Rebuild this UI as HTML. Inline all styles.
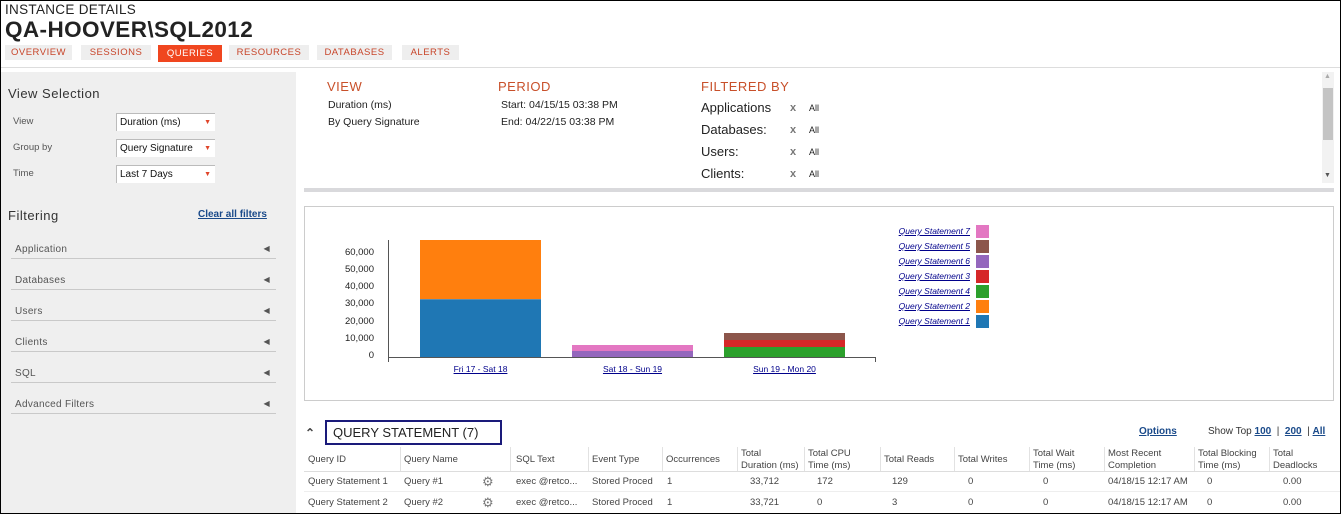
<!DOCTYPE html>
<html><head><meta charset="utf-8"><style>
*{margin:0;padding:0;box-sizing:border-box}
body{width:1341px;height:514px;position:relative;overflow:hidden;background:#fff;font-family:"Liberation Sans",sans-serif;color:#333}
#frame{position:absolute;left:0;top:0;width:1341px;height:514px;border:1px solid #000;pointer-events:none;z-index:9}
.a{position:absolute;white-space:nowrap}
.tab{position:absolute;top:45px;height:15px;background:#eeeeee;color:#c8452a;font-size:9.5px;letter-spacing:.5px;text-align:center;line-height:15px}
.or{color:#c8502a;font-size:13px;letter-spacing:.5px}
.s{font-size:10.5px;color:#222}
.sel{position:absolute;left:116px;width:99px;height:18px;border-top:1px solid #bbb;border-left:1px solid #bbb;background:#fff;font-size:10px;line-height:17px;padding-left:3px;color:#111}
.sel:after{content:"▼";position:absolute;right:4px;top:0;color:#e0452a;font-size:7px}
.fl{position:absolute;left:11px;width:265px;border-bottom:1px solid #c9c9c9;font-size:10px;color:#555;padding-left:4px;padding-top:3px;height:18px;letter-spacing:.3px}
.fl:after{content:"◀";position:absolute;right:6px;top:3px;font-size:8px;color:#555}
.yl{position:absolute;right:967px;font-size:9.5px;color:#222}
.lg{position:absolute;right:371px;font-size:8.5px;color:#00008b;text-decoration:underline;font-style:italic}
.sw{position:absolute;left:976px;width:13px;height:13px}
.th{position:absolute;top:448px;font-size:9.5px;color:#444;line-height:12px}
.td{position:absolute;font-size:9.5px;color:#444}
.vd{position:absolute;top:447px;width:1px;height:24px;background:#e2e2e2}
</style></head><body>
<div id="frame"></div>
<div class="a" style="left:5px;top:2px;font-size:13.5px;color:#222;letter-spacing:.3px">INSTANCE DETAILS</div>
<div class="a" style="left:5px;top:17px;font-size:22.5px;font-weight:bold;color:#222;letter-spacing:.4px">QA-HOOVER\SQL2012</div>
<div class="tab" style="left:5px;width:67px">OVERVIEW</div>
<div class="tab" style="left:81px;width:70px">SESSIONS</div>
<div class="tab" style="left:158px;width:64px;background:#f0461f;color:#fff;height:17px;top:45px;line-height:17px">QUERIES</div>
<div class="tab" style="left:229px;width:80px">RESOURCES</div>
<div class="tab" style="left:317px;width:75px">DATABASES</div>
<div class="tab" style="left:402px;width:57px">ALERTS</div>
<div class="a" style="left:0;top:67px;width:1341px;height:1px;background:#ddd"></div>
<div class="a" style="left:1px;top:72px;width:295px;height:441px;background:#efefef"></div>
<div class="a" style="left:8px;top:86px;font-size:13px;color:#333;letter-spacing:.5px">View Selection</div>
<div class="a s" style="left:13px;top:116px;color:#555;font-size:9.5px">View</div>
<div class="a s" style="left:13px;top:142px;color:#555;font-size:9.5px">Group by</div>
<div class="a s" style="left:13px;top:168px;color:#555;font-size:9.5px">Time</div>
<div class="sel" style="top:113px">Duration (ms)</div>
<div class="sel" style="top:139px">Query Signature</div>
<div class="sel" style="top:165px">Last 7 Days</div>
<div class="a" style="left:8px;top:208px;font-size:13px;color:#333;letter-spacing:.5px">Filtering</div>
<div class="a" style="left:198px;top:209px;font-size:10px;font-weight:bold;color:#1a4a8a;text-decoration:underline">Clear all filters</div>
<div class="fl" style="top:241px">Application</div>
<div class="fl" style="top:272px">Databases</div>
<div class="fl" style="top:303px">Users</div>
<div class="fl" style="top:334px">Clients</div>
<div class="fl" style="top:365px">SQL</div>
<div class="fl" style="top:396px">Advanced Filters</div>

<div class="a or" style="left:327px;top:79px">VIEW</div>
<div class="a s" style="left:328px;top:99px">Duration (ms)</div>
<div class="a s" style="left:328px;top:116px">By Query Signature</div>
<div class="a or" style="left:498px;top:79px">PERIOD</div>
<div class="a s" style="left:501px;top:99px">Start: 04/15/15 03:38 PM</div>
<div class="a s" style="left:501px;top:116px">End: 04/22/15 03:38 PM</div>
<div class="a or" style="left:701px;top:79px">FILTERED BY</div>
<div class="a" style="left:701px;top:97px;font-size:13px;color:#222;line-height:22px">Applications<br>Databases:<br>Users:<br>Clients:</div>
<div class="a" style="left:790px;top:97px;font-size:11px;color:#777;line-height:22px;font-weight:bold">x<br>x<br>x<br>x</div>
<div class="a" style="left:809px;top:97px;font-size:9px;color:#222;line-height:22px">All<br>All<br>All<br>All</div>
<div class="a" style="left:1322px;top:72px;width:12px;height:111px;background:#f2f2f2"></div>
<div class="a" style="left:1323px;top:88px;width:10px;height:52px;background:#c4c4c4"></div>
<div class="a" style="left:1324px;top:73px;font-size:7px;color:#aaa">▲</div>
<div class="a" style="left:1324px;top:172px;font-size:7px;color:#555">▼</div>
<div class="a" style="left:304px;top:188px;width:1030px;height:4px;background:#d9d9dc"></div>

<div class="a" style="left:304px;top:206px;width:1030px;height:195px;border:1px solid #ccc"></div>
<div class="a" style="left:388px;top:240px;width:1px;height:122px;background:#555"></div>
<div class="a" style="left:388px;top:357px;width:487px;height:1px;background:#555"></div>
<div class="a" style="left:875px;top:357px;width:1px;height:5px;background:#555"></div>
<div class="yl" style="top:350px">0</div>
<div class="yl" style="top:333px">10,000</div>
<div class="yl" style="top:316px">20,000</div>
<div class="yl" style="top:298px">30,000</div>
<div class="yl" style="top:281px">40,000</div>
<div class="yl" style="top:264px">50,000</div>
<div class="yl" style="top:247px">60,000</div>
<div class="a" style="left:420px;top:240px;width:121px;height:59px;background:#ff7f0e"></div>
<div class="a" style="left:420px;top:299px;width:121px;height:58px;background:#1f77b4;border-top:1px solid #5a8cb0"></div>
<div class="a" style="left:572px;top:345px;width:121px;height:6px;background:#e377c2"></div>
<div class="a" style="left:572px;top:351px;width:121px;height:6px;background:#9467bd"></div>
<div class="a" style="left:724px;top:333px;width:121px;height:7px;background:#8c564b"></div>
<div class="a" style="left:724px;top:340px;width:121px;height:7px;background:#d62728"></div>
<div class="a" style="left:724px;top:347px;width:121px;height:10px;background:#2ca02c"></div>
<div class="a" style="left:420px;top:364px;width:121px;text-align:center;font-size:8.5px;color:#00008b;text-decoration:underline">Fri 17 - Sat 18</div>
<div class="a" style="left:572px;top:364px;width:121px;text-align:center;font-size:8.5px;color:#00008b;text-decoration:underline">Sat 18 - Sun 19</div>
<div class="a" style="left:724px;top:364px;width:121px;text-align:center;font-size:8.5px;color:#00008b;text-decoration:underline">Sun 19 - Mon 20</div>
<div class="lg" style="top:226px">Query Statement 7</div><div class="sw" style="top:225px;background:#e377c2"></div>
<div class="lg" style="top:241px">Query Statement 5</div><div class="sw" style="top:240px;background:#8c564b"></div>
<div class="lg" style="top:256px">Query Statement 6</div><div class="sw" style="top:255px;background:#9467bd"></div>
<div class="lg" style="top:271px">Query Statement 3</div><div class="sw" style="top:270px;background:#d62728"></div>
<div class="lg" style="top:286px">Query Statement 4</div><div class="sw" style="top:285px;background:#2ca02c"></div>
<div class="lg" style="top:301px">Query Statement 2</div><div class="sw" style="top:300px;background:#ff7f0e"></div>
<div class="lg" style="top:316px">Query Statement 1</div><div class="sw" style="top:315px;background:#1f77b4"></div>

<div class="a" style="left:305px;top:426px;font-size:12px;color:#444;font-weight:bold">⌃</div>
<div class="a" style="left:325px;top:420px;width:177px;height:25px;border:2px solid #1a1a7a;font-size:13px;color:#222;line-height:21px;padding-left:6px">QUERY STATEMENT (7)</div>
<div class="a" style="left:1139px;top:426px;font-size:10px;font-weight:bold;color:#1a4a8a;text-decoration:underline">Options</div>
<div class="a" style="left:1208px;top:426px;font-size:10px;color:#333">Show Top <b style="color:#1a4a8a;text-decoration:underline">100</b> &nbsp;| &nbsp;<b style="color:#1a4a8a;text-decoration:underline">200</b> &nbsp;| <b style="color:#1a4a8a;text-decoration:underline">All</b></div>
<div class="a" style="left:304px;top:471px;width:1036px;height:1px;background:#ddd"></div>
<div class="a" style="left:304px;top:491px;width:1036px;height:1px;background:#eee"></div>
<div class="vd" style="left:400px"></div><div class="vd" style="left:510px"></div><div class="vd" style="left:588px"></div><div class="vd" style="left:662px"></div><div class="vd" style="left:737px"></div><div class="vd" style="left:804px"></div><div class="vd" style="left:880px"></div><div class="vd" style="left:954px"></div><div class="vd" style="left:1029px"></div><div class="vd" style="left:1104px"></div><div class="vd" style="left:1194px"></div><div class="vd" style="left:1269px"></div>
<div class="th" style="left:308px;top:454px">Query ID</div>
<div class="th" style="left:404px;top:454px">Query Name</div>
<div class="th" style="left:516px;top:454px">SQL Text</div>
<div class="th" style="left:592px;top:454px">Event Type</div>
<div class="th" style="left:666px;top:454px">Occurrences</div>
<div class="th" style="left:741px">Total<br>Duration (ms)</div>
<div class="th" style="left:808px">Total CPU<br>Time (ms)</div>
<div class="th" style="left:884px;top:454px">Total Reads</div>
<div class="th" style="left:958px;top:454px">Total Writes</div>
<div class="th" style="left:1033px">Total Wait<br>Time (ms)</div>
<div class="th" style="left:1108px">Most Recent<br>Completion</div>
<div class="th" style="left:1198px">Total Blocking<br>Time (ms)</div>
<div class="th" style="left:1273px">Total<br>Deadlocks</div>
<div class="td" style="left:308px;top:476px">Query Statement 1</div><div class="td" style="left:404px;top:476px">Query #1</div><div class="td" style="left:482px;top:474px;font-size:13px;color:#777">⚙</div><div class="td" style="left:516px;top:476px">exec @retco...</div><div class="td" style="left:592px;top:476px">Stored Proced</div><div class="td" style="left:667px;top:476px">1</div><div class="td" style="left:750px;top:476px">33,712</div><div class="td" style="left:817px;top:476px">172</div><div class="td" style="left:892px;top:476px">129</div><div class="td" style="left:968px;top:476px">0</div><div class="td" style="left:1043px;top:476px">0</div><div class="td" style="left:1108px;top:476px">04/18/15 12:17 AM</div><div class="td" style="left:1207px;top:476px">0</div><div class="td" style="left:1283px;top:476px">0.00</div>
<div class="td" style="left:308px;top:497px">Query Statement 2</div><div class="td" style="left:404px;top:497px">Query #2</div><div class="td" style="left:482px;top:495px;font-size:13px;color:#777">⚙</div><div class="td" style="left:516px;top:497px">exec @retco...</div><div class="td" style="left:592px;top:497px">Stored Proced</div><div class="td" style="left:667px;top:497px">1</div><div class="td" style="left:750px;top:497px">33,721</div><div class="td" style="left:817px;top:497px">0</div><div class="td" style="left:892px;top:497px">3</div><div class="td" style="left:968px;top:497px">0</div><div class="td" style="left:1043px;top:497px">0</div><div class="td" style="left:1108px;top:497px">04/18/15 12:17 AM</div><div class="td" style="left:1207px;top:497px">0</div><div class="td" style="left:1283px;top:497px">0.00</div>
</body></html>
